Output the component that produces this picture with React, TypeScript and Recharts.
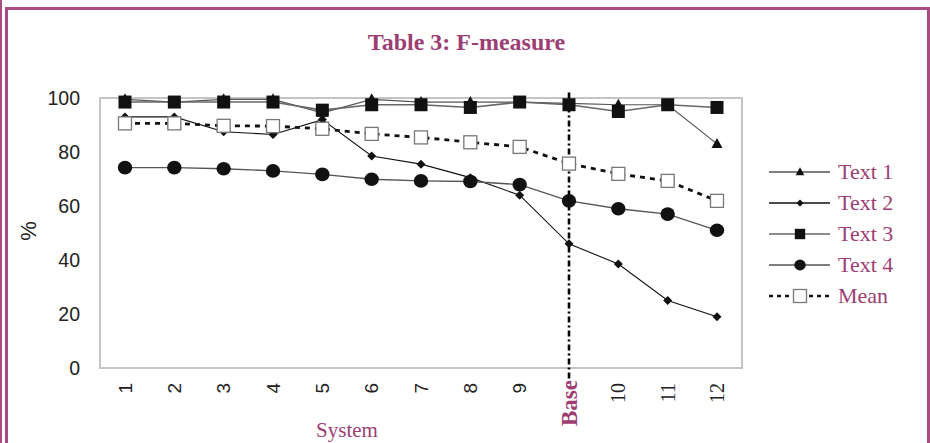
import React from 'react'
import { LineChart, Line, XAxis, YAxis, ReferenceLine } from 'recharts'

const systems = ['1', '2', '3', '4', '5', '6', '7', '8', '9', 'Base', '10', '11', '12']

const text1 = [99.5, 98.5, 99.5, 99.5, 94.5, 99.5, 98.5, 98.5, 98.5, 98, 97.5, 97.5, 83]
const text2 = [93, 93, 87.5, 86.5, 92, 78.5, 75.5, 70.5, 64, 46, 38.5, 25, 19]
const text3 = [98.5, 98.5, 98.5, 98.5, 95.5, 97.5, 97.5, 96.5, 98.5, 97.5, 95, 97.5, 96.5]
const text4 = [74.2, 74.2, 73.8, 73, 71.7, 69.9, 69.3, 69.1, 67.9, 61.9, 59, 57, 51]
const mean = [90.6, 90.6, 89.7, 89.6, 88.6, 86.7, 85.4, 83.6, 81.9, 75.7, 71.9, 69.3, 61.9]

const yTicks = [0, 20, 40, 60, 80, 100]

const MAGENTA = '#9c3e73'
const BORDER = '#a84c82'
const SERIF = '"Liberation Serif", "Times New Roman", serif'
const SANS = '"Liberation Sans", Arial, sans-serif'

type MarkerKind = 'triangle' | 'diamond' | 'square' | 'circle' | 'hollow'

const series: { key: string; name: string; stroke: string; width: number; dash?: string; marker: MarkerKind }[] = [
  { key: 'text1', name: 'Text 1', stroke: '#555', width: 1.2, marker: 'triangle' },
  { key: 'text2', name: 'Text 2', stroke: '#111', width: 1.1, marker: 'diamond' },
  { key: 'text3', name: 'Text 3', stroke: '#666', width: 1.6, marker: 'square' },
  { key: 'text4', name: 'Text 4', stroke: '#555', width: 1.4, marker: 'circle' },
  { key: 'mean', name: 'Mean', stroke: '#111', width: 2.8, dash: '5 5', marker: 'hollow' },
]

const chartData = systems.map((name, i) => ({
  name,
  text1: text1[i],
  text2: text2[i],
  text3: text3[i],
  text4: text4[i],
  mean: mean[i],
}))

function Marker({ kind, cx, cy, small }: { kind: MarkerKind; cx: number; cy: number; small?: boolean }) {
  const k = small ? 0.8 : 1
  switch (kind) {
    case 'triangle':
      return <path d={`M${cx},${cy - 6 * k} L${cx + 5.5 * k},${cy + 4 * k} L${cx - 5.5 * k},${cy + 4 * k} Z`} fill="#111" />
    case 'diamond':
      return <path d={`M${cx},${cy - 4.5 * k} L${cx + 4.5 * k},${cy} L${cx},${cy + 4.5 * k} L${cx - 4.5 * k},${cy} Z`} fill="#111" />
    case 'square':
      return <rect x={cx - 6.5 * k} y={cy - 6.5 * k} width={13 * k} height={13 * k} fill="#111" />
    case 'circle':
      return <ellipse cx={cx} cy={cy} rx={7.2 * k} ry={6.8 * k} fill="#111" />
    default:
      return <rect x={cx - 6.5 * k} y={cy - 6.5 * k} width={13 * k} height={13 * k} fill="#fff" stroke="#777" strokeWidth={1.3} />
  }
}

function SystemTick(props: any) {
  const { x, y, payload } = props
  const v = String(payload.value)
  if (v === 'Base') {
    return (
      <g transform={`translate(${x},${y})`}>
        <text transform="rotate(-90)" x={-12} dy="0.34em" textAnchor="end" fontFamily={SERIF} fontWeight="bold" fontSize={23} fill={MAGENTA}>
          {v}
        </text>
      </g>
    )
  }
  const serif = Number(v) >= 10
  return (
    <g transform={`translate(${x},${y})`}>
      <text
        transform="rotate(-90)"
        x={-15}
        dy="0.35em"
        textAnchor="end"
        fontFamily={serif ? SERIF : SANS}
        fontSize={serif ? 20 : 19}
        fill="#222"
      >
        {v}
      </text>
    </g>
  )
}

function Legend() {
  return (
    <svg width={180} height={170} style={{ position: 'absolute', left: 760, top: 150 }}>
      {series.map((s, i) => {
        const cy = 22 + i * 31
        return (
          <g key={s.key}>
            <line x1={9} x2={70} y1={cy} y2={cy} stroke={s.stroke} strokeWidth={s.marker === 'hollow' ? 2.6 : 1.6} strokeDasharray={s.dash ? '4 4' : undefined} />
            <Marker kind={s.marker} cx={40} cy={cy} small={s.marker !== 'hollow'} />
            <text x={78} y={cy + 7} fontFamily={SERIF} fontSize={22} fill={MAGENTA}>
              {s.name}
            </text>
          </g>
        )
      })}
    </svg>
  )
}

export default function App() {
  return (
    <div style={{ position: 'absolute', left: 0, top: 0, width: 930, height: 443, overflow: 'hidden', background: '#fff' }}>
      <div style={{ position: 'absolute', left: 0, top: 0, width: 2, height: 443, background: BORDER }} />
      <div
        style={{
          position: 'absolute',
          left: 5,
          top: 7,
          width: 925,
          height: 500,
          borderTop: `3px solid ${BORDER}`,
          borderLeft: `3px solid ${BORDER}`,
          borderRight: `3px solid ${BORDER}`,
          boxSizing: 'border-box',
        }}
      />
      <div
        style={{
          position: 'absolute',
          left: 0,
          top: 29,
          width: 933,
          textAlign: 'center',
          fontFamily: SERIF,
          fontWeight: 'bold',
          fontSize: 24,
          lineHeight: '26px',
          color: MAGENTA,
        }}
      >
        Table 3: F-measure
      </div>
      <div
        style={{
          position: 'absolute',
          left: 99,
          top: 97,
          width: 644,
          height: 272,
          border: '2px solid #c4c4c4',
          boxSizing: 'border-box',
        }}
      />
      <div style={{ position: 'absolute', left: 0, top: 0 }}>
        <LineChart width={745} height={443} data={chartData} margin={{ top: 98, right: 3, bottom: 0, left: 0 }}>
          <XAxis
            dataKey="name"
            height={75}
            axisLine={false}
            tickLine={false}
            tickSize={0}
            tickMargin={0}
            interval={0}
            padding={{ left: 25, right: 25 }}
            tick={<SystemTick />}
            label={{
              content: () => (
                <text x={347} y={437} textAnchor="middle" fontFamily={SERIF} fontSize={21} fill={MAGENTA}>
                  System
                </text>
              ),
            }}
          />
          <YAxis
            width={100}
            domain={[0, 100]}
            ticks={yTicks}
            axisLine={false}
            tickLine={false}
            tickSize={0}
            tickMargin={20}
            tick={{ fontFamily: SANS, fontSize: 19.5, fill: '#222' }}
            label={{
              content: () => (
                <text x={28} y={231} transform="rotate(-90, 28, 231)" textAnchor="middle" dominantBaseline="central" fontFamily={SANS} fontSize={22} fill="#222">
                  %
                </text>
              ),
            }}
          />
          {series.map((s) => (
            <Line
              key={s.key}
              dataKey={s.key}
              name={s.name}
              stroke={s.stroke}
              strokeWidth={s.width}
              strokeDasharray={s.dash}
              isAnimationActive={false}
              dot={(p: any) => <Marker key={`${s.key}-${p.index}`} kind={s.marker} cx={p.cx} cy={p.cy} />}
              activeDot={false}
            />
          ))}
          <ReferenceLine
            segment={[
              { x: 'Base', y: 102 },
              { x: 'Base', y: -5 },
            ]}
            ifOverflow="visible"
            stroke="#000"
            strokeWidth={2.6}
            strokeDasharray="6 3 2 3"
          />
        </LineChart>
      </div>
      <Legend />
    </div>
  )
}
